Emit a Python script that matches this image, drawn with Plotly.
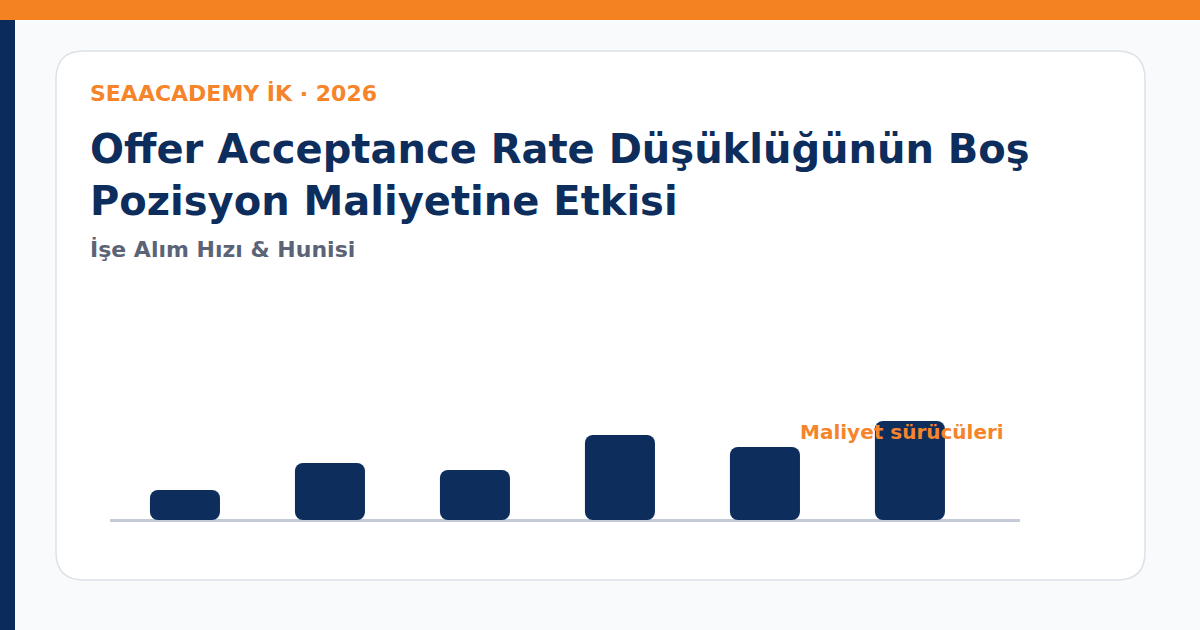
import plotly.graph_objects as go

# cost drivers (no labels shown on the card)
categories = ["Kalem 1", "Kalem 2", "Kalem 3", "Kalem 4", "Kalem 5", "Kalem 6"]
values = [30, 57, 50, 85, 73, 99]
bases = [0, 0, 0, 0, 0, 0]

header_text = "SEAACADEMY İK · 2026"
title_text = "Offer Acceptance Rate Düşüklüğünün Boş<br>Pozisyon Maliyetine Etkisi"
subtitle_text = "İşe Alım Hızı & Hunisi"
label_text = "Maliyet sürücüleri"

NAVY = "#0d2d5c"
ORANGE = "#f5842a"
W, H = 1200, 630


def px(x):
    return x / W


def py(y):
    return 1 - y / H


def rounded_rect(x0, y0, x1, y1, r):
    # path in paper units, corners built with quadratic curves
    pts = [
        f"M {px(x0 + r)},{py(y0)}",
        f"L {px(x1 - r)},{py(y0)}",
        f"Q {px(x1)},{py(y0)} {px(x1)},{py(y0 + r)}",
        f"L {px(x1)},{py(y1 - r)}",
        f"Q {px(x1)},{py(y1)} {px(x1 - r)},{py(y1)}",
        f"L {px(x0 + r)},{py(y1)}",
        f"Q {px(x0)},{py(y1)} {px(x0)},{py(y1 - r)}",
        f"L {px(x0)},{py(y0 + r)}",
        f"Q {px(x0)},{py(y0)} {px(x0 + r)},{py(y0)}",
        "Z",
    ]
    return " ".join(pts)


fig = go.Figure()
# explicit base -> plotly rounds both ends of the bar
fig.add_trace(go.Bar(x=categories, y=values, base=bases, width=0.483,
                     marker=dict(color=NAVY, line=dict(width=0)), hoverinfo="skip"))

shapes = [
    dict(type="rect", xref="paper", yref="paper", x0=0, x1=1, y0=py(20), y1=1,
         fillcolor="#f58220", line=dict(width=0), layer="below"),
    dict(type="rect", xref="paper", yref="paper", x0=0, x1=px(15), y0=0, y1=py(20),
         fillcolor="#0b2b5c", line=dict(width=0), layer="below"),
    dict(type="path", xref="paper", yref="paper", path=rounded_rect(56, 51, 1145, 580, 28),
         fillcolor="white", line=dict(color="#dde1e8", width=1.5), layer="below"),
]

annotations = [
    dict(text=f"<b>{header_text}</b>", x=px(88), y=py(93), xref="paper", yref="paper",
         xanchor="left", yanchor="middle", showarrow=False,
         font=dict(family="DejaVu Sans", size=22, color=ORANGE)),
    dict(text=f"<b>{title_text}</b>", x=px(88), y=py(124), xref="paper", yref="paper",
         xanchor="left", yanchor="top", align="left", showarrow=False,
         font=dict(family="DejaVu Sans", size=40, color=NAVY)),
    dict(text=f"<b>{subtitle_text}</b>", x=px(88), y=py(250), xref="paper", yref="paper",
         xanchor="left", yanchor="middle", showarrow=False,
         font=dict(family="DejaVu Sans", size=22, color="#5b6477")),
    dict(text=f"<b>{label_text}</b>", x=px(902), y=py(432), xref="paper", yref="paper",
         xanchor="center", yanchor="middle", showarrow=False,
         font=dict(family="DejaVu Sans", size=20, color=ORANGE)),
]

fig.update_layout(
    width=W, height=H,
    margin=dict(l=0, r=0, t=0, b=0),
    paper_bgcolor="#f8fafc",
    plot_bgcolor="rgba(0,0,0,0)",
    barcornerradius=8,
    showlegend=False,
    shapes=shapes,
    annotations=annotations,
    xaxis=dict(domain=[px(110), px(1020)], range=[-0.517, 5.759],
               showgrid=False, showticklabels=False, zeroline=False, fixedrange=True),
    yaxis=dict(domain=[py(522), py(402)], range=[-2, 118],
               showgrid=False, showticklabels=False, fixedrange=True,
               zeroline=True, zerolinecolor="#c5cad8", zerolinewidth=3),
)

fig.write_html("out.html",
               config={"displayModeBar": False},
               post_script="document.body.style.margin='0';"
                           "document.body.style.background='#f8fafc';")
